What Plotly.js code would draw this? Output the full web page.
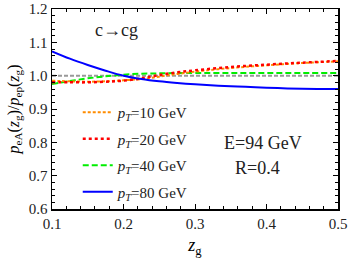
<!DOCTYPE html>
<html>
<head>
<meta charset="utf-8">
<script src="https://cdn.plot.ly/plotly-3.0.1.min.js"></script>
<style>html,body{margin:0;padding:0;background:#fff;}#chart{width:349px;height:259px;}</style>
</head>
<body>
<div id="chart"></div>
<script>
const zg = [0.1, 0.125, 0.15, 0.175, 0.2, 0.225, 0.25, 0.275, 0.3, 0.35, 0.4, 0.45, 0.5];
const pt10 = [0.985, 0.983, 0.982, 0.983, 0.986, 0.990, 0.997, 1.005, 1.012, 1.023, 1.031, 1.038, 1.043];
const pt20 = [0.980, 0.980, 0.980, 0.982, 0.985, 0.992, 1.002, 1.010, 1.016, 1.026, 1.033, 1.039, 1.044];
const pt40 = [0.975, 0.984, 0.992, 0.998, 1.003, 1.006, 1.007, 1.008, 1.008, 1.008, 1.008, 1.008, 1.008];
const pt80 = [1.073, 1.051, 1.032, 1.015, 1.000, 0.990, 0.983, 0.978, 0.974, 0.968, 0.964, 0.961, 0.960];
const refLine = [1.0, 1.0];
const refX = [0.1, 0.5];
const labels = ['<i>p</i><sub><i>T</i></sub>=10 GeV', '<i>p</i><sub><i>T</i></sub>=20 GeV', '<i>p</i><sub><i>T</i></sub>=40 GeV', '<i>p</i><sub><i>T</i></sub>=80 GeV'];

const F = 'Liberation Serif, Times New Roman, serif';
const traces = [
  {x: refX, y: refLine, mode: 'lines', line: {color: '#999999', width: 2, dash: '4px,2px'}, showlegend: false, hoverinfo: 'skip'},
  {x: zg, y: pt40, mode: 'lines', name: labels[2], legendrank: 3, legendgroup: 'c', line: {color: '#00ee00', width: 2, dash: '6px,3px', shape: 'spline'}},
  {x: zg, y: pt10, mode: 'lines', name: labels[0], legendrank: 1, legendgroup: 'a', line: {color: '#ff8c00', width: 2, dash: '3px,2px', shape: 'spline'}},
  {x: zg, y: pt20, mode: 'lines', name: labels[1], legendrank: 2, legendgroup: 'b', line: {color: '#ff0000', width: 2.5, dash: 'dot', shape: 'spline'}},
  {x: zg, y: pt80, mode: 'lines', name: labels[3], legendrank: 4, legendgroup: 'd', line: {color: '#0000ff', width: 2, shape: 'spline'}}
];

const axisCommon = {
  showline: true, linecolor: '#000', linewidth: 1.5, mirror: 'ticks',
  ticks: 'inside', ticklen: 5, tickwidth: 1, tickcolor: '#000',
  showgrid: false, zeroline: false,
  tickfont: {family: F, size: 15, color: '#222'},
  minor: {ticks: 'inside', ticklen: 3, tickwidth: 1, tickcolor: '#000', showgrid: false}
};

const layout = {
  width: 349, height: 259,
  margin: {l: 52, r: 11, t: 9, b: 50},
  paper_bgcolor: '#fff', plot_bgcolor: '#fff',
  font: {family: F, color: '#000'},
  xaxis: Object.assign({}, axisCommon, {
    range: [0.1, 0.5], dtick: 0.1, tick0: 0.1, tickformat: '.1f',
    minor: Object.assign({}, axisCommon.minor, {dtick: 0.02}),
    title: {text: '<i>z</i><sub>g</sub>', font: {family: F, size: 18}, standoff: 8}
  }),
  yaxis: Object.assign({}, axisCommon, {
    range: [0.6, 1.2], dtick: 0.1, tick0: 0.6, tickformat: '.1f',
    minor: Object.assign({}, axisCommon.minor, {dtick: 0.02}),
    title: {text: '<i>p</i><sub>eA</sub>(<i>z</i><sub>g</sub>)/<i>p</i><sub>ep</sub>(<i>z</i><sub>g</sub>)', font: {family: F, size: 16}, standoff: 5}
  }),
  legend: {x: 0.09, y: 0.565, xanchor: 'left', yanchor: 'top', bgcolor: 'rgba(0,0,0,0)',
           font: {family: F, size: 15, color: '#222'}, itemwidth: 30, tracegroupgap: 4, traceorder: 'grouped'},
  annotations: [
    {x: 0.19, y: 1.137, xref: 'x', yref: 'y', text: 'c→cg', showarrow: false, font: {family: F, size: 18, color: '#222'}},
    {x: 0.395, y: 0.798, xref: 'x', yref: 'y', text: 'E=94 GeV', showarrow: false, font: {family: F, size: 18, color: '#222'}},
    {x: 0.388, y: 0.723, xref: 'x', yref: 'y', text: 'R=0.4', showarrow: false, font: {family: F, size: 18, color: '#222'}}
  ]
};

Plotly.newPlot('chart', traces, layout, {staticPlot: true, displayModeBar: false});
</script>
</body>
</html>
